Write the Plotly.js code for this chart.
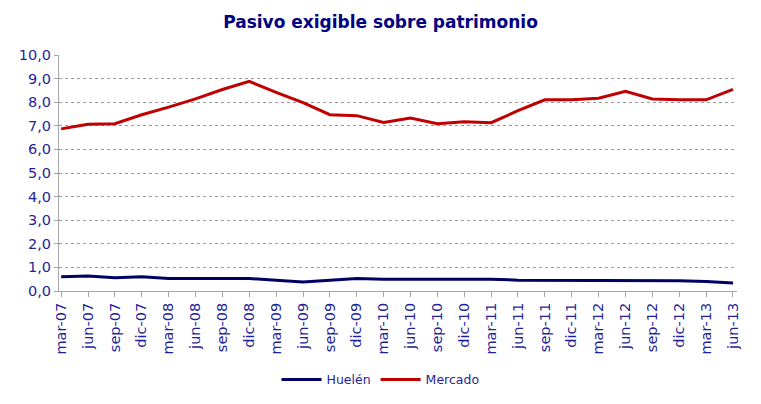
<!DOCTYPE html>
<html>
<head>
<meta charset="utf-8">
<script src="https://cdn.plot.ly/plotly-3.0.1.min.js"></script>
<style>
    body { margin: 0; background: white; }
    #chart { width: 761px; height: 404px; }
</style>
</head>
<body>
<div id="chart"></div>
<script>
// Quarterly periods, mar-07 .. jun-13
var periods = ['mar-07', 'jun-07', 'sep-07', 'dic-07', 'mar-08', 'jun-08', 'sep-08', 'dic-08',
    'mar-09', 'jun-09', 'sep-09', 'dic-09', 'mar-10', 'jun-10', 'sep-10', 'dic-10',
    'mar-11', 'jun-11', 'sep-11', 'dic-11', 'mar-12', 'jun-12', 'sep-12', 'dic-12',
    'mar-13', 'jun-13'];

var huelen = [0.60, 0.64, 0.56, 0.60, 0.53, 0.53, 0.53, 0.53,
    0.46, 0.38, 0.46, 0.53, 0.50, 0.50, 0.50, 0.50,
    0.50, 0.46, 0.46, 0.46, 0.46, 0.46, 0.43, 0.43,
    0.40, 0.34];

var mercado = [6.87, 7.07, 7.09, 7.47, 7.79, 8.14, 8.54, 8.88,
    8.42, 7.98, 7.47, 7.43, 7.14, 7.33, 7.09, 7.17,
    7.13, 7.64, 8.10, 8.10, 8.17, 8.46, 8.14, 8.10,
    8.10, 8.54];

var navy = '#000080';
var textColor = '#1f1f99';

var traces = [
    {
        x: periods,
        y: huelen,
        name: 'Huelén',
        type: 'scatter',
        mode: 'lines',
        line: {color: '#000066', width: 3}
    },
    {
        x: periods,
        y: mercado,
        name: 'Mercado',
        type: 'scatter',
        mode: 'lines',
        line: {color: '#C00000', width: 3}
    }
];

var layout = {
    width: 761,
    height: 404,
    margin: {l: 59, r: 24, t: 55, b: 113},
    paper_bgcolor: 'white',
    plot_bgcolor: 'white',
    separators: ',.',
    font: {family: 'DejaVu Sans, Verdana, sans-serif', color: textColor},
    title: {
        text: '<b>Pasivo exigible sobre patrimonio</b>',
        font: {family: 'DejaVu Sans, Verdana, sans-serif', size: 17, color: navy},
        x: 0.5,
        xanchor: 'center',
        y: 0.945,
        yanchor: 'middle'
    },
    xaxis: {
        type: 'category',
        range: [-0.08, 25.15],
        automargin: false,
        tickangle: -90,
        tickfont: {size: 14.5, color: textColor},
        showgrid: false,
        showline: true,
        linecolor: '#a6a6a6',
        linewidth: 1,
        ticks: 'outside',
        ticklen: 5,
        tickcolor: '#a6a6a6',
        zeroline: false
    },
    yaxis: {
        range: [0, 10],
        dtick: 1,
        automargin: false,
        tickformat: '.1f',
        tickfont: {size: 14.5, color: textColor},
        showgrid: true,
        gridcolor: '#9a9a9a',
        griddash: 'dot',
        gridwidth: 1,
        showline: true,
        linecolor: '#a6a6a6',
        linewidth: 1,
        ticks: 'outside',
        ticklen: 4,
        tickcolor: '#a6a6a6',
        zeroline: false
    },
    showlegend: true,
    legend: {
        orientation: 'h',
        xref: 'container',
        x: 0.5,
        xanchor: 'center',
        yref: 'container',
        y: 0.097,
        yanchor: 'top',
        font: {size: 12.5, color: textColor},
        itemwidth: 40,
        traceorder: 'normal'
    }
};

Plotly.newPlot('chart', traces, layout, {displayModeBar: false, staticPlot: true});
</script>
</body>
</html>
